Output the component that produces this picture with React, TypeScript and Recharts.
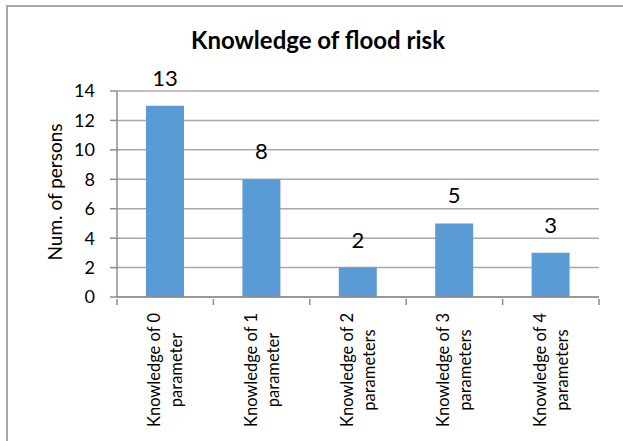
import React from "react";
import {
  BarChart,
  Bar,
  XAxis,
  YAxis,
  CartesianGrid,
  LabelList,
} from "recharts";

// category names, split into the two lines shown under each bar
const categoryLines: string[][] = [
  ["Knowledge of 0", "parameter"],
  ["Knowledge of 1", "parameter"],
  ["Knowledge of 2", "parameters"],
  ["Knowledge of 3", "parameters"],
  ["Knowledge of 4", "parameters"],
];
const persons = [13, 8, 2, 5, 3];
const yTicks = [0, 2, 4, 6, 8, 10, 12, 14];

const data = categoryLines.map((lines, i) => ({
  name: lines.join("\n"),
  value: persons[i],
}));

const FONT = "Lato, 'Open Sans', sans-serif";
const AXIS = "#8c8c8c";
const GRID = "#a9a9a9";

const CategoryTick = (props: any) => {
  const { x, y, payload, index, visibleTicksCount } = props;
  const half = payload?.offset || 48;
  const lines: string[] = String(payload.value).split("\n");
  const isLast = index === (visibleTicksCount ?? data.length) - 1;
  return (
    <g>
      <line x1={x - half} x2={x - half} y1={y} y2={y + 6} stroke={AXIS} strokeWidth={1.5} />
      {isLast && (
        <line x1={x + half} x2={x + half} y1={y} y2={y + 6} stroke={AXIS} strokeWidth={1.5} />
      )}
      {lines.map((line, i) => (
        <text
          key={i}
          transform={`translate(${x - 5 + i * 22}, ${y + 71}) rotate(-90)`}
          textAnchor="middle"
          fontSize={16.5}
          fontFamily={FONT}
          fill="#000"
        >
          {line}
        </text>
      ))}
    </g>
  );
};

const AxisTitle = (props: any) => {
  const vb = props.viewBox || {};
  const cy = (vb.y ?? 91) + (vb.height ?? 206) / 2;
  return (
    <text
      transform={`translate(62, ${cy - 2}) rotate(-90)`}
      textAnchor="middle"
      fontSize={19}
      fontFamily={FONT}
      fill="#000"
    >
      Num. of persons
    </text>
  );
};

export default function App() {
  return (
    <div
      style={{
        position: "fixed",
        left: 0,
        top: 0,
        width: 623,
        height: 441,
        overflow: "hidden",
        background: "#fff",
        fontFamily: FONT,
      }}
    >
      {/* chart frame, runs past the right and bottom edges */}
      <div
        style={{
          position: "absolute",
          left: 6,
          top: 5,
          width: 700,
          height: 500,
          border: "2px solid #a6a6a6",
        }}
      />
      <div
        style={{
          position: "absolute",
          left: 318,
          top: 28,
          transform: "translateX(-50%)",
          whiteSpace: "nowrap",
          fontWeight: 700,
          fontSize: 24,
          lineHeight: "24px",
          color: "#000",
        }}
      >
        Knowledge of flood risk
      </div>
      <BarChart
        width={623}
        height={441}
        data={data}
        margin={{ top: 91, right: 24, bottom: 0, left: 0 }}
        style={{ position: "absolute", left: 0, top: 0 }}
      >
        <CartesianGrid vertical={false} stroke={GRID} strokeWidth={1.5} />
        <XAxis
          dataKey="name"
          type="category"
          height={144}
          interval={0}
          tickSize={0}
          tickLine={false}
          axisLine={{ stroke: AXIS, strokeWidth: 1.5 }}
          tick={<CategoryTick />}
        />
        <YAxis
          type="number"
          domain={[0, 14]}
          ticks={yTicks}
          width={117}
          interval={0}
          tickSize={7}
          tickMargin={15}
          axisLine={{ stroke: AXIS, strokeWidth: 1.5 }}
          tickLine={{ stroke: AXIS, strokeWidth: 1.5 }}
          tick={{ fill: "#000", fontSize: 18, fontFamily: FONT }}
          label={{ content: <AxisTitle /> }}
        />
        <Bar dataKey="value" fill="#5b9bd5" barSize={38} isAnimationActive={false}>
          <LabelList
            dataKey="value"
            position="top"
            offset={20}
            fill="#000"
            fontSize={22}
            fontFamily={FONT}
          />
        </Bar>
      </BarChart>
    </div>
  );
}
